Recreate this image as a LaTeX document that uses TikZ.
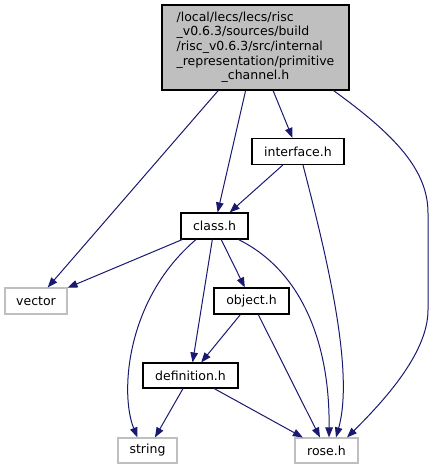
\documentclass[tikz,border=0pt]{standalone}
\usepackage{fontspec}
\setmainfont{DejaVu Sans}
\usetikzlibrary{arrows.meta}
\definecolor{edgeblue}{HTML}{191970}
\definecolor{boxgray}{HTML}{BFBFBF}
\begin{document}
\begin{tikzpicture}[x=1pt,y=-1pt,>={Triangle[length=10pt,width=7.5pt]},
    every node/.style={font=\fontsize{12.5}{14}\selectfont,inner sep=0pt,minimum height=26pt},
    hdr/.style={draw=black,fill=white,line width=1.1pt},
    sys/.style={draw=boxgray,fill=white,line width=1.1pt},
    dep/.style={->,draw=edgeblue,line width=1pt}]
            \useasboundingbox (0,0) rectangle (433,469);
            \node[hdr,fill=boxgray,minimum width=187pt,minimum height=85pt] (chan) at (255.5,47.5) {\fontsize{12.5}{14.6}\selectfont\begin{tabular}{@{}l@{}}/local/lecs/lecs/risc\\\_v0.6.3/sources/build\\/risc\_v0.6.3/src/internal\\\_representation/primitive\\\multicolumn{1}{@{}c@{}}{\_channel.h}\end{tabular}};
            \node[hdr,minimum width=92pt] (iface) at (298,151.5) {interface.h};
            \node[hdr,minimum width=67pt] (cls) at (214.5,226) {class.h};
            \node[sys,minimum width=62pt] (vec) at (36,301) {vector};
            \node[hdr,minimum width=75pt] (obj) at (251.5,301) {object.h};
            \node[hdr,minimum width=95pt,minimum height=25pt] (defn) at (190.5,375.5) {definition.h};
            \node[sys,minimum width=59pt,minimum height=25pt] (str) at (147.5,450.5) {string};
            \node[sys,minimum width=63pt,minimum height=25pt] (rose) at (326.5,450.5) {rose.h};
            \draw[dep] (chan) -- (vec);
            \draw[dep] (chan) -- (cls);
            \draw[dep] (chan) -- (iface);
            \draw[dep] ([xshift=78pt]chan.south) .. controls (395,135) and (428,170) .. (428,213) -- (428,310) .. controls (428,350) and (390,395) .. ([xshift=20.5pt]rose.north);
            \draw[dep] (iface) -- (cls);
            \draw[dep] ([xshift=5pt]iface.south) .. controls (325,250) and (355,370) .. ([xshift=9.5pt]rose.north);
            \draw[dep] (cls) -- (vec);
            \draw[dep] (cls) -- (obj);
            \draw[dep] (cls) -- (defn);
            \draw[dep] ([xshift=-18.5pt]cls.south) .. controls (125,300) and (120,395) .. ([xshift=-10pt]str.north);
            \draw[dep] ([xshift=24pt]cls.south) .. controls (300,270) and (330,340) .. ([xshift=2.5pt]rose.north);
            \draw[dep] (obj) -- (defn);
            \draw[dep] (obj) -- (rose);
            \draw[dep] (defn) -- (str);
            \draw[dep] (defn) -- (rose);
        \end{tikzpicture}
\end{document}
